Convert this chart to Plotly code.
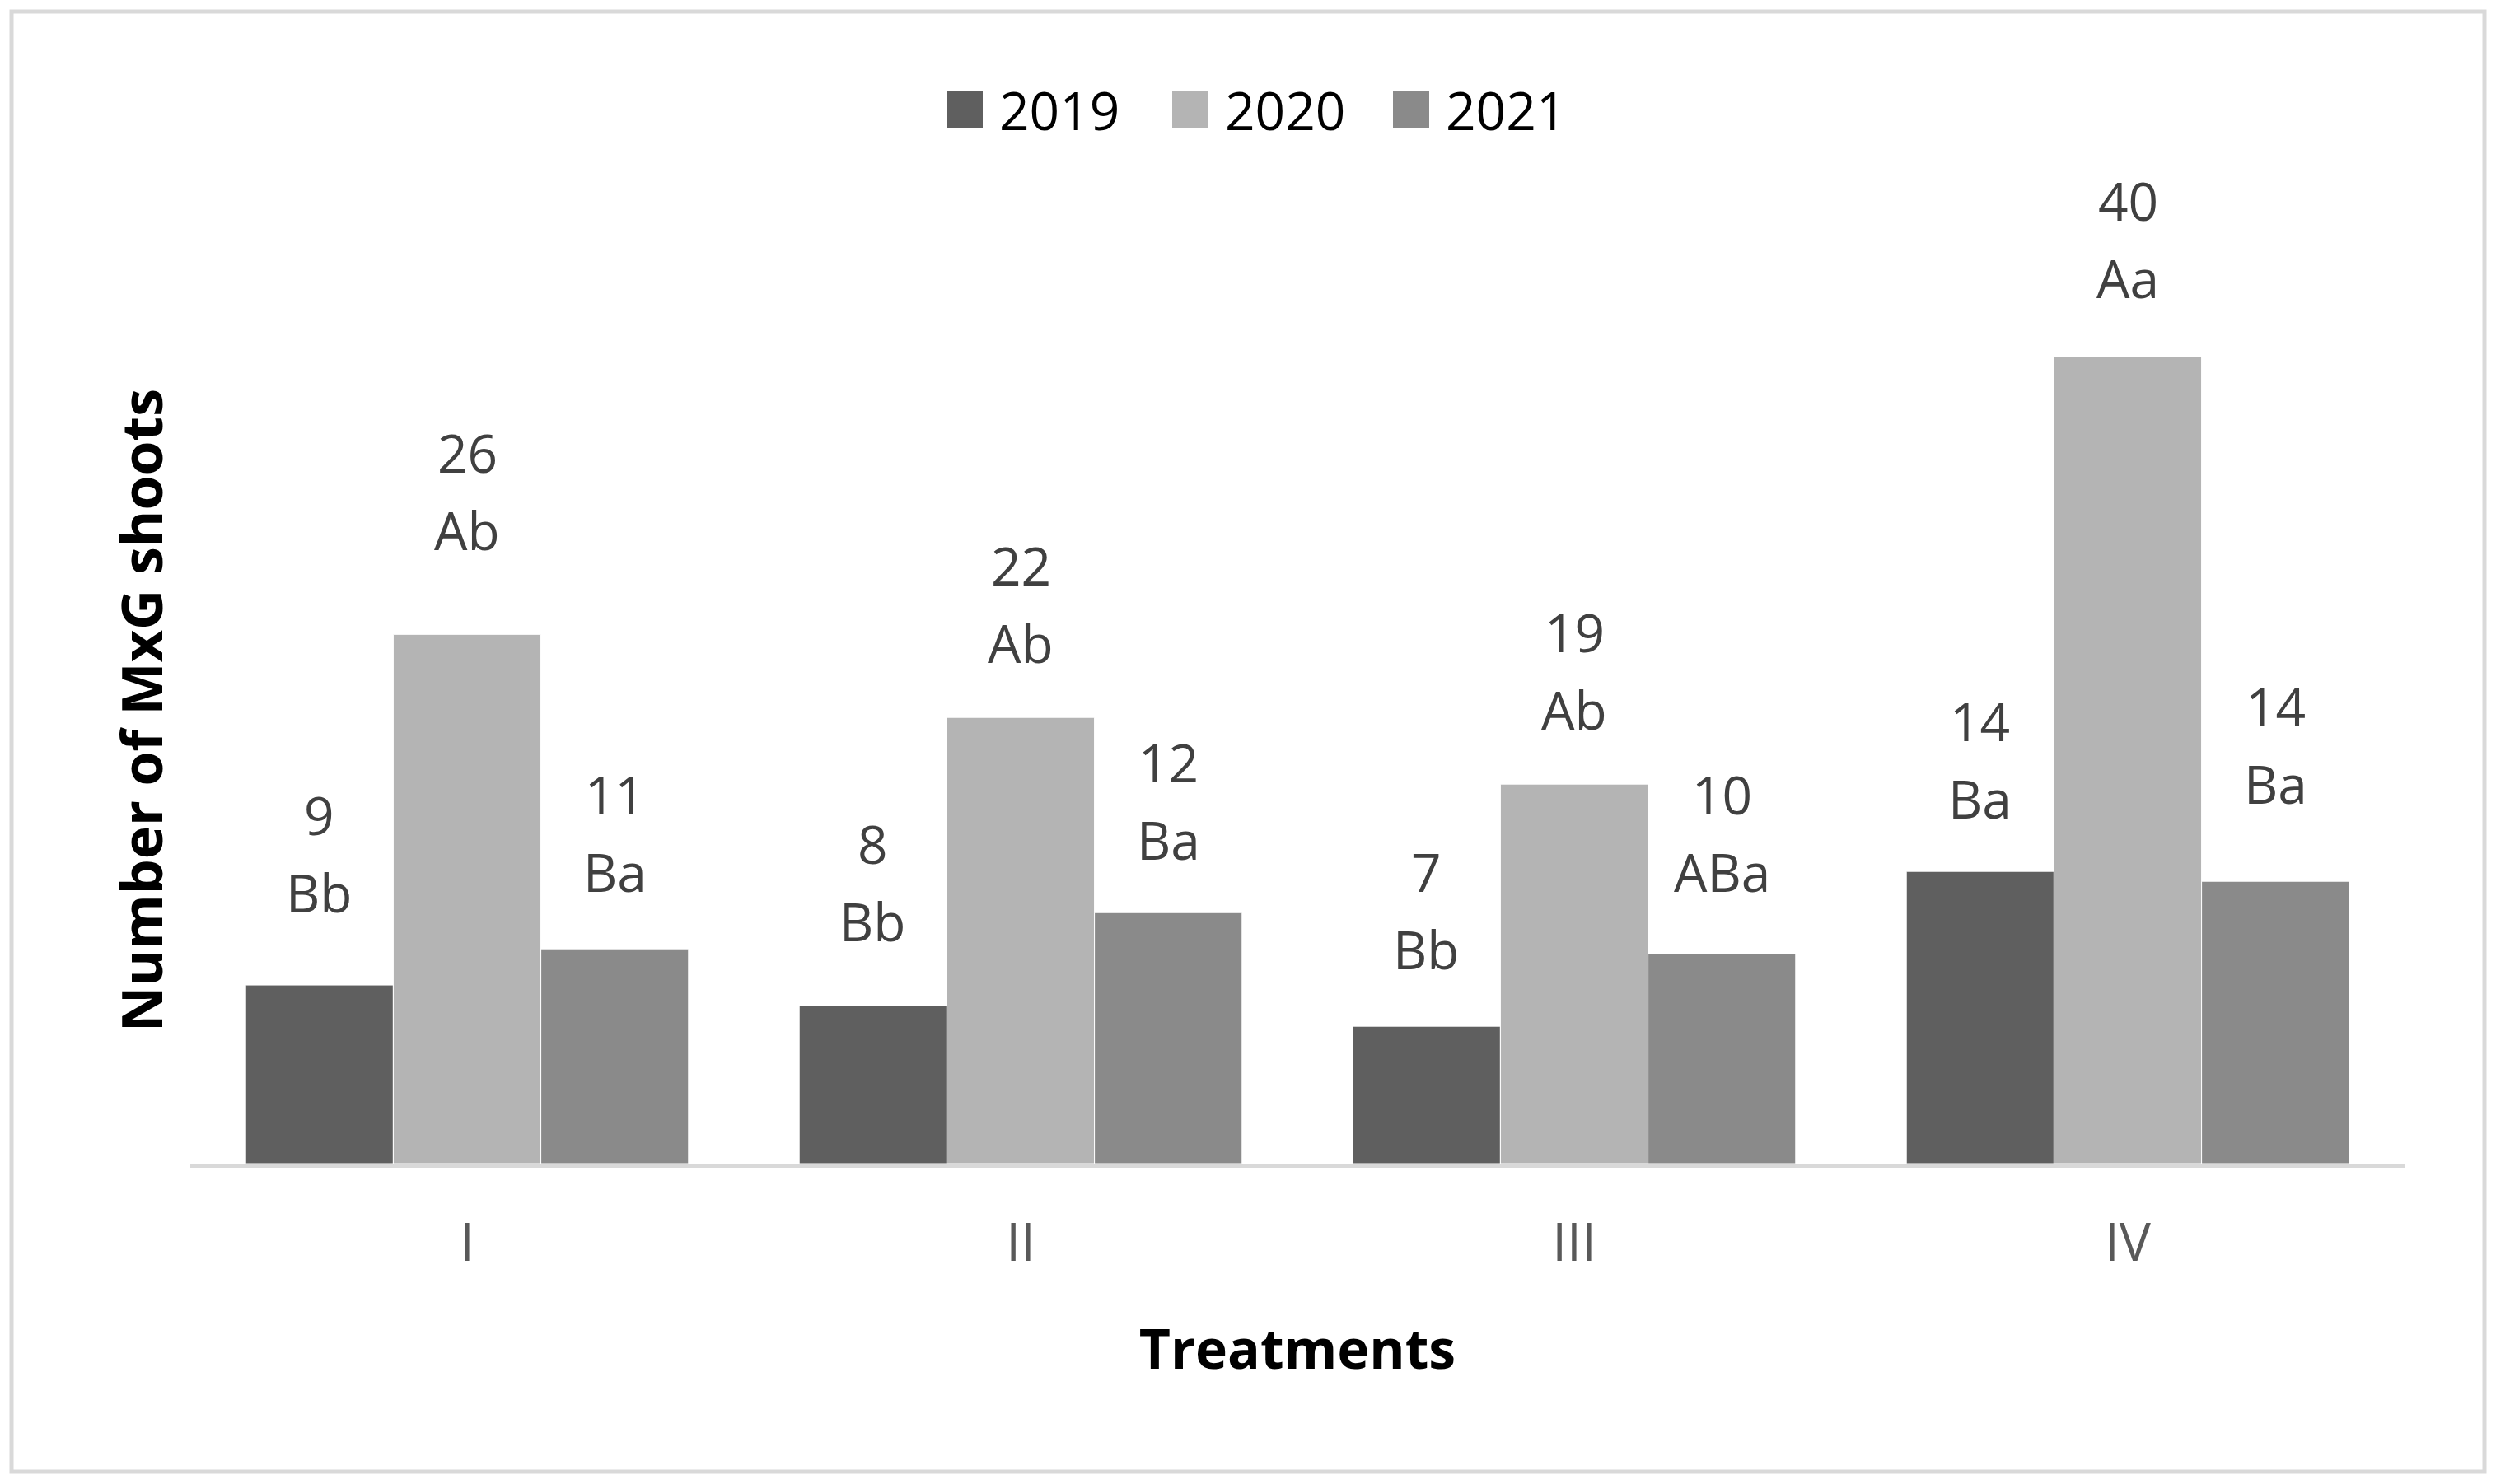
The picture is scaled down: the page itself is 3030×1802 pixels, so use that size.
import plotly.graph_objects as go

# values (bar heights; the labels show them rounded)
treatments = ["I", "II", "III", "IV"]
years = ["2019", "2020", "2021"]
shoots_2019 = [8.84, 7.82, 6.80, 14.46]
shoots_2020 = [26.19, 22.08, 18.78, 39.92]
shoots_2021 = [10.63, 12.42, 10.39, 13.97]
letters_2019 = ["Bb", "Bb", "Bb", "Ba"]
letters_2020 = ["Ab", "Ab", "Ab", "Aa"]
letters_2021 = ["Ba", "Ba", "ABa", "Ba"]

colors = ["#5f5f5f", "#b4b4b4", "#8a8a8a"]
# labels were placed by hand in the original, gap (px) above each bar
label_gap = [[87, 77, 68, 63], [101, 65, 65, 70], [68, 63, 74, 93]]

series = list(zip(years, [shoots_2019, shoots_2020, shoots_2021],
                  [letters_2019, letters_2020, letters_2021], colors, label_gap))

OFF = 8  # page body margin
W, H = 3030 - OFF, 1802 - OFF
ML, MR, MT, MB = 223, 111, 178, 389
PW, PH = W - ML - MR, H - MT - MB
BARGAP = 0.2
bar_px = PW / len(treatments) * (1 - BARGAP) / len(years)

FONT = "Open Sans"


def px_x(px):
    return (px - OFF - ML) / PW


def px_y(py):
    return (H - MB - (py - OFF)) / PH


fig = go.Figure()
annotations = []
shapes = []

for i, (name, vals, lets, color, gaps) in enumerate(series):
    fig.add_trace(go.Bar(
        x=treatments, y=vals, name=name,
        marker=dict(color=color, line=dict(color="#ffffff", width=1)),
        showlegend=False,
    ))
    shift = (i - 1) * bar_px
    for t, v, l, g in zip(treatments, vals, lets, gaps):
        annotations.append(dict(x=t, y=v, text=l, showarrow=False,
                                xanchor="center", yanchor="bottom",
                                xshift=shift, yshift=g - 20,
                                font=dict(family=FONT, size=64, color="#404040")))
        annotations.append(dict(x=t, y=v, text=str(round(v)), showarrow=False,
                                xanchor="center", yanchor="bottom",
                                xshift=shift, yshift=g + 74,
                                font=dict(family=FONT, size=64, color="#404040")))

# legend drawn by hand so the swatches match the size of the text
legend_left = [1149, 1423, 1691]
for (name, vals, lets, color, gaps), left in zip(series, legend_left):
    shapes.append(dict(type="rect", xref="paper", yref="paper",
                       x0=px_x(left), x1=px_x(left + 44),
                       y0=px_y(155), y1=px_y(111),
                       fillcolor=color, line=dict(width=0)))
    annotations.append(dict(xref="paper", yref="paper", x=px_x(left + 62), y=px_y(133),
                            text=name, showarrow=False, xanchor="left", yanchor="middle",
                            font=dict(family=FONT, size=64, color="#000000")))

# y axis title
annotations.append(dict(xref="paper", yref="paper", x=px_x(170), y=px_y(863),
                        text="<b>Number of MxG shoots</b>", textangle=-90,
                        showarrow=False, xanchor="center", yanchor="middle",
                        font=dict(family=FONT, size=68, color="#000000")))

# outer frame
shapes.append(dict(type="rect", xref="paper", yref="paper",
                   x0=px_x(14), x1=px_x(3016), y0=px_y(1787), y1=px_y(14),
                   line=dict(color="#d9d9d9", width=5), layer="below"))

fig.update_layout(
    width=W, height=H,
    margin=dict(l=ML, r=MR, t=MT, b=MB),
    barmode="group", bargap=BARGAP, bargroupgap=0,
    plot_bgcolor="white", paper_bgcolor="white",
    font=dict(family=FONT, size=64, color="#595959"),
    annotations=annotations, shapes=shapes,
)
fig.update_xaxes(
    showline=True, linecolor="#d9d9d9", linewidth=5,
    ticks="", showgrid=False, ticklabelstandoff=36,
    tickfont=dict(family=FONT, size=64, color="#595959"),
    title=dict(text="<b>Treatments</b>", standoff=69,
               font=dict(family=FONT, size=66, color="#000000")),
)
fig.update_yaxes(range=[0, 50], visible=False, showgrid=False, zeroline=False)

fig.write_html("out.html")
